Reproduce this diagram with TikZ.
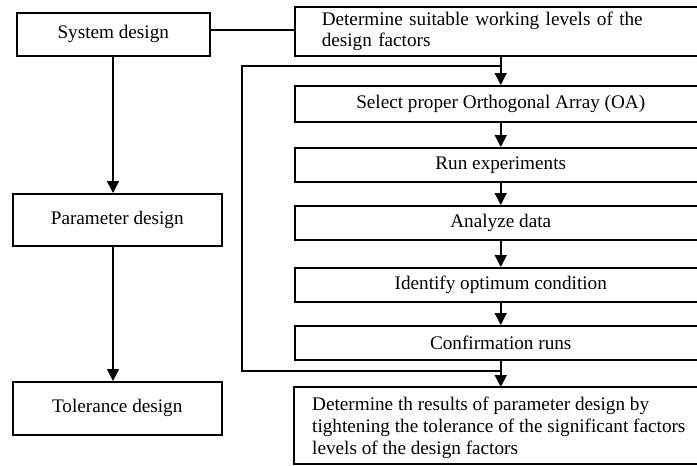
\documentclass[tikz,border=0pt]{standalone}
\usepackage{fontspec}
\setmainfont{Liberation Serif}
\usetikzlibrary{arrows.meta}
\begin{document}
\begin{tikzpicture}[x=1pt,y=-1pt,
  box/.style={draw, line width=1.5pt, rectangle, inner sep=0pt, anchor=north west, font=\fontsize{19.2}{21.8}\selectfont},
  conn/.style={line width=1.5pt},
  arr/.style={line width=1.5pt, -{Triangle[width=12pt,length=12pt]}}]
\useasboundingbox (0,0) rectangle (697,466);
\clip (0,0) rectangle (697,466);
% left column
\node[box, minimum width=193pt, minimum height=43pt] (sys) at (16,12) {System design};
\node[box, minimum width=209pt, minimum height=52pt] (par) at (12,193) {Parameter design};
\node[box, minimum width=209pt, minimum height=53pt] (tol) at (12,381) {Tolerance design};
% right column
\node[box, text width=358pt, inner xsep=27pt, minimum height=49pt, align=left] (det) at (294,6) {Determine suitable working levels of the\\design factors};
\node[box, minimum width=412pt, minimum height=36pt] (sel) at (294,85) {Select proper Orthogonal Array (OA)};
\node[box, minimum width=412pt, minimum height=34pt] (run) at (294,147) {Run experiments};
\node[box, minimum width=412pt, minimum height=34pt] (ana) at (294,205) {Analyze data};
\node[box, minimum width=412pt, minimum height=34pt] (opt) at (294,267) {Identify optimum condition};
\node[box, minimum width=412pt, minimum height=34pt] (con) at (294,325) {Confirmation runs};
\coordinate (finnw) at (294,387);
\coordinate (finse) at (706,464);
\draw[conn] (finnw) rectangle (finse);
\node[anchor=north west, inner sep=0pt, align=left, font=\fontsize{19.2}{21.8}\selectfont] (fin) at (312,397) {Determine th results of parameter design by\\tightening the tolerance of the significant factors\\levels of the design factors};
% connectors
\coordinate (sl) at (209,30);
\draw[conn] (sl) -- (sl -| det.west);
\draw[arr] (113,55) -- (113,193);
\draw[arr] (113,245) -- (113,381);
\draw[arr] (det.south) -- (sel.north);
\draw[arr] (sel.south) -- (run.north);
\draw[arr] (run.south) -- (ana.north);
\draw[arr] (ana.south) -- (opt.north);
\draw[arr] (opt.south) -- (con.north);
\draw[arr] (con.south) -- (con.south |- finnw);
\coordinate (lt) at (242,66);
\coordinate (lb) at (242,371);
\draw[conn] (lt -| sel.north) -- (lt) -- (lb) -- (lb -| con.south);
\end{tikzpicture}
\end{document}
